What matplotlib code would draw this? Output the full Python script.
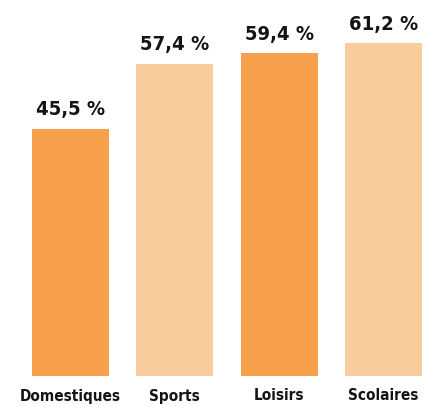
import matplotlib
matplotlib.use("Agg")
import matplotlib.pyplot as plt

# === Data ===
categories = ["Domestiques", "Sports", "Loisirs", "Scolaires"]
values = [45.5, 57.4, 59.4, 61.2]
value_labels = ["45,5 %", "57,4 %", "59,4 %", "61,2 %"]
colors = ["#F7A04B", "#F9CC9D", "#F7A04B", "#F9CC9D"]

font = dict(family="DejaVu Sans", stretch="condensed", weight="bold", color="#141414")

fig = plt.figure(figsize=(4.24, 4.07), dpi=100)
ax = fig.add_axes([0, 31 / 407, 1, 376 / 407])

x = range(len(categories))
bars = ax.bar(x, values, width=0.74, color=colors)

# value labels above bars
for xi, v, lab in zip(x, values, value_labels):
    ax.annotate(lab, (xi, v), xytext=(0, 7), textcoords="offset points",
                ha="center", va="bottom", fontsize=14.5, **font)

ax.set_xlim(-0.676, 3.389)
ax.set_ylim(0, 69.2)
ax.set_xticks(list(x))
ax.set_xticklabels(categories, fontsize=11, **font)
ax.tick_params(axis="x", length=0, pad=9)
ax.set_yticks([])
for s in ax.spines.values():
    s.set_visible(False)

fig.savefig("out.png", dpi=100)
